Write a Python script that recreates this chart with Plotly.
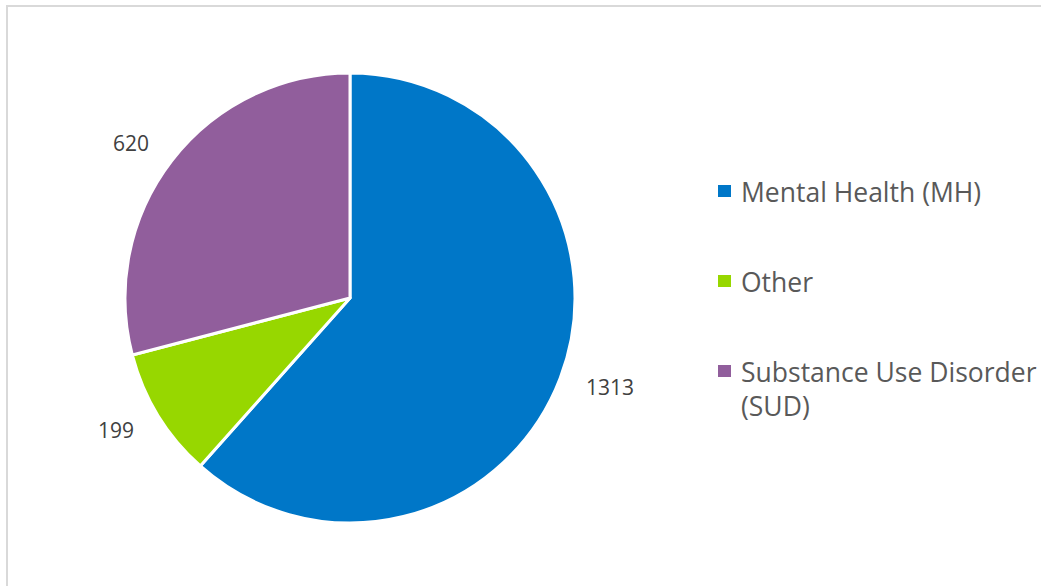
import plotly.graph_objects as go

categories = ["Mental Health (MH)", "Other", "Substance Use Disorder (SUD)"]
legend_labels = ["Mental Health (MH)", "Other", "Substance Use Disorder<br>(SUD)"]
values = [1313, 199, 620]
colors = ["#0077C8", "#97D700", "#915E9C"]

W, H = 1041, 586

def px(x):
    return x / W

def py(y):
    return 1 - y / H

cx, cy, r = 350, 298, 225
r_text = 245  # invisible label ring, so labels sit a little further out

def dom(rad):
    return dict(x=[px(cx - rad), px(cx + rad)], y=[py(cy + rad), py(cy - rad)])

fig = go.Figure()
# Visible pie
fig.add_trace(go.Pie(
    labels=categories,
    values=values,
    sort=False,
    direction="clockwise",
    rotation=0,
    marker=dict(colors=colors, line=dict(color="white", width=3)),
    textinfo="none",
    showlegend=False,
    automargin=False,
    domain=dom(r),
    hoverinfo="label+value",
))
# Transparent pie carrying the outside value labels
fig.add_trace(go.Pie(
    labels=categories,
    values=values,
    sort=False,
    direction="clockwise",
    rotation=0,
    marker=dict(colors=["rgba(0,0,0,0)"] * len(values), line=dict(width=0)),
    textinfo="value",
    textposition="outside",
    outsidetextfont=dict(family="Open Sans", size=21, color="#404040"),
    showlegend=False,
    automargin=False,
    domain=dom(r_text),
    hoverinfo="skip",
))

# Custom legend
legend_y = [191, 281, 371]
fs = 26.5
shapes = [dict(type="rect", xref="paper", yref="paper",
               x0=px(7), x1=1.2, y0=-0.2, y1=py(6),
               line=dict(color="#D9D9D9", width=2), fillcolor="rgba(0,0,0,0)")]
annotations = []
for lab, col, yy in zip(legend_labels, colors, legend_y):
    shapes.append(dict(type="rect", xref="paper", yref="paper",
                       x0=px(718), x1=px(731), y0=py(yy + 6), y1=py(yy - 6),
                       line=dict(width=0), fillcolor=col))
    annotations.append(dict(xref="paper", yref="paper", x=px(739), y=py(yy - 2 - fs * 0.65),
                            xanchor="left", yanchor="top", align="left",
                            text=lab, showarrow=False,
                            font=dict(family="Open Sans", size=fs, color="#595959")))

fig.update_layout(
    width=W, height=H,
    margin=dict(l=0, r=0, t=0, b=0),
    paper_bgcolor="white",
    plot_bgcolor="white",
    shapes=shapes,
    annotations=annotations,
)

fig.write_html("out.html", config={"displayModeBar": False},
               post_script="document.body.style.margin='0';")
